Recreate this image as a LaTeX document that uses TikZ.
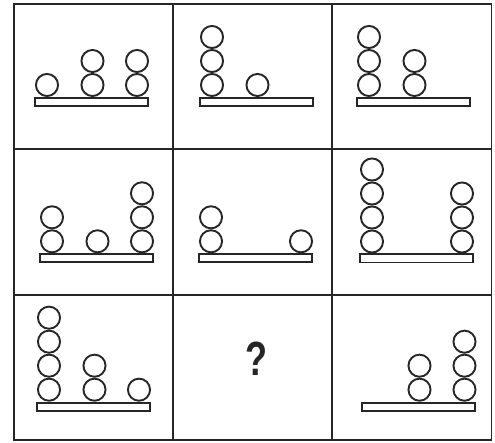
\documentclass[tikz,border=0pt]{standalone}
\usepackage{fontspec}
\setmainfont{Liberation Sans}
\usepackage{tikz}

\begin{document}
\begin{tikzpicture}[x=1pt, y=-1pt,
  grid/.style={draw=black!85, line width=1.9pt},
  ball/.style={draw=black!85, line width=1.9pt},
  shelf/.style={draw=black!85, line width=1.8pt}]
\useasboundingbox (0,0) rectangle (495,443);

% outer frame and cell lines
\draw[grid] (14,4) rectangle (491.5,440);
\foreach \gx in {173.2, 332.3}
  \draw[grid] (\gx,4) -- (\gx,440);
\foreach \gy in {149.3, 294.7}
  \draw[grid] (14,\gy) -- (491.5,\gy);

% shelves: left edge / top edge
\foreach \bl/\bt in {34/97, 199/97, 356/97,
                     39/253.3, 198/253.3, 359/253.5,
                     36/401.7, 361/401.7}
  \draw[shelf] (\bl+0.9,\bt+0.9) rectangle ++(113.2,8.2);

% ball stacks: x / shelf top / count
\foreach \sx/\st/\sn in {47/97/1, 92.5/97/2, 137/97/2,
                         212/97/3, 257.5/97/1,
                         369/97/3, 414.5/97/2,
                         52/253.3/2, 97.5/253.3/1, 142/253.3/3,
                         211/253.3/2, 301/253.3/1,
                         372/253.5/4, 462/253.5/3,
                         49/401.7/4, 94.5/401.7/2, 139/401.7/1,
                         419.5/401.7/2, 464.5/401.7/3}
  \foreach \k in {1,...,\sn}
    \draw[ball] (\sx,{\st-12-24*(\k-1)}) circle (11.05pt);

\node[font=\fontsize{48}{48}\selectfont\bfseries, xscale=0.75, text=black!85] (ask) at (256.5,358.5) {?};
\end{tikzpicture}
\end{document}
